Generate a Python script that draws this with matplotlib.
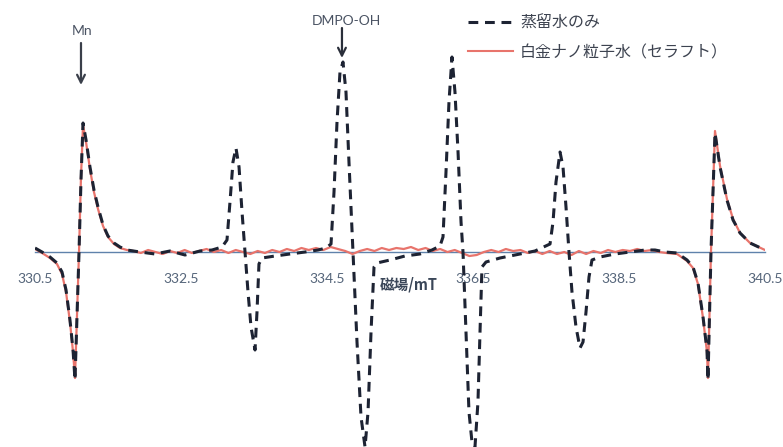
import matplotlib
matplotlib.use("Agg")
import matplotlib.pyplot as plt
from matplotlib.lines import Line2D

# ---------------- data (field in mT, intensity in arbitrary units) ----------------
water_x = [330.500, 330.596, 330.705, 330.801, 330.870, 330.925, 330.979, 331.021, 331.048,
           331.103, 331.130, 331.158, 331.199, 331.253, 331.308, 331.363, 331.432, 331.500,
           331.582, 331.664, 331.760, 331.938, 332.144, 332.349, 332.555, 332.760, 332.925,
           333.062, 333.130, 333.171, 333.212, 333.253, 333.295, 333.336, 333.377, 333.418,
           333.459, 333.514, 333.541, 333.568, 333.610, 333.788, 333.993, 334.199, 334.377,
           334.486, 334.555, 334.596, 334.637, 334.678, 334.719, 334.760, 334.801, 334.856,
           334.911, 334.966, 335.021, 335.062, 335.103, 335.144, 335.185, 335.363, 335.568,
           335.774, 335.938, 336.048, 336.089, 336.130, 336.171, 336.212, 336.253, 336.295,
           336.336, 336.363, 336.404, 336.445, 336.486, 336.527, 336.568, 336.596, 336.623,
           336.678, 336.870, 337.144, 337.349, 337.555, 337.596, 337.637, 337.692, 337.733,
           337.774, 337.815, 337.856, 337.911, 337.966, 338.007, 338.048, 338.089, 338.130,
           338.240, 338.445, 338.651, 338.856, 338.993, 339.130, 339.295, 339.432, 339.514,
           339.582, 339.651, 339.705, 339.719, 339.760, 339.815, 339.884, 339.979, 340.062,
           340.158, 340.295, 340.500]
water_y = [4, 0, -5, -11, -20, -38, -68, -98, -128,
           0, 72, 129, 112, 85, 62, 45, 27, 16,
           9, 5, 2, 0, -2, 1, -3, 1, 2,
           5, 12, 50, 90, 104, 85, 40, 0, -40,
           -75, -98, -60, -12, -6, -4, -2, 0, 2,
           4, 8, 60, 130, 180, 190, 160, 90, 0,
           -90, -165, -195, -160, -80, -15, -11, -8, -4,
           -2, 2, 6, 15, 80, 150, 195, 160, 100,
           30, 0, -80, -160, -190, -195, -150, -80, -15,
           -10, -6, -2, 1, 8, 30, 70, 100, 85,
           45, 0, -40, -75, -96, -90, -60, -25, -8,
           -5, -2, 0, 2, 2, 0, -1, -8, -15,
           -31, -65, -98, -128, 0, 119, 85, 52, 32,
           19, 9, 2]

pt_x = [330.500, 330.596, 330.705, 330.801, 330.870, 330.925, 330.979, 331.021, 331.048,
        331.103, 331.130, 331.158, 331.199, 331.253, 331.308, 331.363, 331.432, 331.500,
        331.582, 331.664, 331.760,
        331.85, 331.95, 332.05, 332.15, 332.25, 332.35, 332.45, 332.55, 332.65, 332.75,
        332.85, 332.95, 333.05, 333.15, 333.25, 333.35, 333.45, 333.55, 333.65, 333.75,
        333.85, 333.95, 334.05, 334.15, 334.25, 334.35, 334.45, 334.55, 334.65, 334.75,
        334.85, 334.95, 335.05, 335.15, 335.25, 335.35, 335.45, 335.55, 335.65, 335.75,
        335.85, 335.95, 336.05, 336.15, 336.25, 336.35, 336.45, 336.55, 336.65, 336.75,
        336.85, 336.95, 337.05, 337.15, 337.25, 337.35, 337.45, 337.55, 337.65, 337.75,
        337.85, 337.95, 338.05, 338.15, 338.25, 338.35, 338.45, 338.55, 338.65, 338.75,
        338.85, 338.95, 339.05, 339.15,
        339.295, 339.432, 339.514, 339.582, 339.651, 339.705, 339.719, 339.760, 339.815,
        339.884, 339.979, 340.062, 340.158, 340.295, 340.500]
pt_y = [3, -1, -6, -12, -22, -40, -70, -100, -126,
        0, 75, 127, 110, 83, 60, 43, 26, 15,
        8, 4, 2,
        1, -1, 2, 0, -2, 1, -1, 2, -1, 1,
        3, 0, 2, -1, 2, 0, -2, 1, -1, 2,
        0, 3, 1, 4, 2, 4, 2, 5, 3, 1,
        -2, 1, 3, 1, 4, 2, 4, 3, 5, 2,
        4, 1, 3, 0, 2, -1, -4, -3, 0, 2,
        0, 3, 1, 2, -1, 1, -2, 1, -2, 0,
        -3, 1, -2, 1, -1, 2, 0, 2, 1, 3,
        1, 2, 0, -1,
        -2, -9, -16, -32, -66, -100, -126, 0, 121,
        86, 53, 33, 19, 9, 2]

tick_values = [330.5, 332.5, 334.5, 336.5, 338.5, 340.5]
tick_labels = ["330.5", "332.5", "334.5", "336.5", "338.5", "340.5"]
series_labels = ["蒸留水のみ", "白金ナノ粒子水（セラフト）"]

# ---------------- figure ----------------
JP = ["Noto Sans CJK JP", "DejaVu Sans"]
TXT = "#3d4350"

fig = plt.figure(figsize=(7.83, 4.47), dpi=100)
fig.patch.set_facecolor("white")
ax = fig.add_axes([35 / 783, 0, 730 / 783, 1])
ax.set_xlim(330.5, 340.5)
ax.set_ylim(-195, 252)
ax.set_facecolor("none")

red, = ax.plot(pt_x, pt_y, color="#e8746c", lw=1.6, zorder=3, solid_joinstyle="round")
dash, = ax.plot(water_x, water_y, color="#1d2333", lw=2.2, ls=(0, (3.2, 2.2)),
                zorder=4, dash_capstyle="butt")

for s in ["left", "right", "top"]:
    ax.spines[s].set_visible(False)
ax.spines["bottom"].set_position(("data", 0))
ax.spines["bottom"].set_color("#5f82ab")
ax.spines["bottom"].set_linewidth(1.0)
ax.spines["bottom"].set_zorder(2)
ax.set_yticks([])
ax.set_xticks(tick_values)
ax.set_xticklabels(tick_labels, fontfamily="Lato", fontsize=10, color="#55657a")
ax.tick_params(axis="x", length=0, pad=15)

ax.text(335.623, -33, "磁場/mT", fontfamily=JP, fontsize=10.5, fontweight="bold",
        color="#3a4658", ha="center", va="center", zorder=5)

# annotations
ax.annotate("", xy=(331.130, 167), xytext=(331.130, 209),
            arrowprops=dict(arrowstyle="->", color="#3a3f4a", lw=1.6,
                            mutation_scale=14, shrinkA=0, shrinkB=0))
ax.text(331.144, 221, "Mn", fontfamily="Lato", fontsize=10, color="#4a5363",
        ha="center", va="center")
ax.annotate("", xy=(334.705, 194), xytext=(334.705, 224),
            arrowprops=dict(arrowstyle="->", color="#2a2f3a", lw=1.6,
                            mutation_scale=14, shrinkA=0, shrinkB=0))
ax.text(334.760, 231, "DMPO-OH", fontfamily="Lato", fontsize=10, color="#4a5363",
        ha="center", va="center")

handles = [Line2D([], [], color="#1d2333", lw=2.2, ls=(0, (3.2, 2.2))),
           Line2D([], [], color="#e8746c", lw=1.5)]
leg = fig.legend(handles, series_labels, loc="upper left",
                 bbox_to_anchor=(468 / 783, 1 - 15 / 447), frameon=False,
                 prop={"family": JP, "size": 11.5}, handlelength=2.8,
                 handletextpad=0.45, labelspacing=0.75, borderaxespad=0,
                 borderpad=0)
for t in leg.get_texts():
    t.set_color(TXT)

fig.savefig("out.png", dpi=100, facecolor="white")
